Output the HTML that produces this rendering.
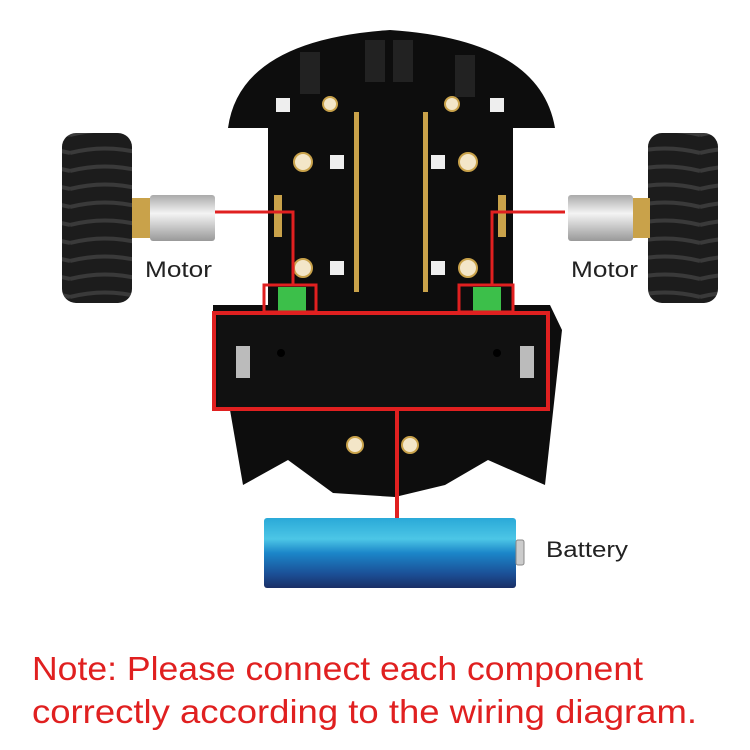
<!DOCTYPE html>
<html><head><meta charset="utf-8"><style>
html,body{margin:0;padding:0;background:#fff;width:750px;height:750px;overflow:hidden}
svg{display:block}
</style></head><body>
<svg width="750" height="750" viewBox="0 0 750 750" xmlns="http://www.w3.org/2000/svg">
<defs>
<linearGradient id="bat" x1="0" y1="0" x2="0" y2="1">
<stop offset="0" stop-color="#2aa9d8"/><stop offset="0.3" stop-color="#4cc6e6"/><stop offset="0.5" stop-color="#1b86c9"/><stop offset="0.8" stop-color="#1b4f96"/><stop offset="1" stop-color="#1a2f66"/>
</linearGradient>
<linearGradient id="mot" x1="0" y1="0" x2="0" y2="1">
<stop offset="0" stop-color="#aaa"/><stop offset="0.4" stop-color="#f4f4f4"/><stop offset="1" stop-color="#999"/>
</linearGradient>
<pattern id="tread" width="70" height="18" patternUnits="userSpaceOnUse">
<rect width="70" height="18" fill="#1c1c1c"/><path d="M0 9 Q35 0 70 9" stroke="#3a3a3a" stroke-width="4" fill="none"/>
</pattern>
</defs>
<rect x="62" y="133" width="70" height="170" rx="14" fill="url(#tread)"/>
<rect x="648" y="133" width="70" height="170" rx="14" fill="url(#tread)"/>
<rect x="132" y="198" width="20" height="40" fill="#c9a24a"/>
<rect x="150" y="195" width="65" height="46" rx="3" fill="url(#mot)"/>
<rect x="630" y="198" width="20" height="40" fill="#c9a24a"/>
<rect x="568" y="195" width="65" height="46" rx="3" fill="url(#mot)"/>
<path d="M228 128 Q240 40 390 30 Q540 40 555 128 L513 128 L513 310 L268 310 L268 128 Z" fill="#0d0d0d"/>
<path d="M213 305 L550 305 L562 330 L545 485 L488 460 L445 485 L395 497 L333 493 L288 460 L243 485 L230 410 L213 410 Z" fill="#0d0d0d"/>
<rect x="300" y="52" width="20" height="42" fill="#222"/><rect x="365" y="40" width="20" height="42" fill="#222"/><rect x="393" y="40" width="20" height="42" fill="#222"/><rect x="455" y="55" width="20" height="42" fill="#222"/>
<g fill="#f3e6c8" stroke="#c9a24a" stroke-width="2">
<circle cx="303" cy="162" r="9"/><circle cx="468" cy="162" r="9"/><circle cx="303" cy="268" r="9"/><circle cx="468" cy="268" r="9"/><circle cx="330" cy="104" r="7"/><circle cx="452" cy="104" r="7"/><circle cx="355" cy="445" r="8"/><circle cx="410" cy="445" r="8"/>
</g>
<g fill="#eee"><rect x="276" y="98" width="14" height="14"/><rect x="490" y="98" width="14" height="14"/><rect x="330" y="155" width="14" height="14"/><rect x="431" y="155" width="14" height="14"/><rect x="330" y="261" width="14" height="14"/><rect x="431" y="261" width="14" height="14"/></g>
<g fill="#c9a24a"><rect x="274" y="195" width="8" height="42"/><rect x="498" y="195" width="8" height="42"/>
<rect x="354" y="112" width="5" height="180"/><rect x="423" y="112" width="5" height="180"/></g>
<rect x="278" y="287" width="28" height="24" fill="#3cbf4a"/><rect x="473" y="287" width="28" height="24" fill="#3cbf4a"/>
<rect x="218" y="315" width="330" height="92" fill="#111"/>
<rect x="236" y="346" width="14" height="32" fill="#bbb"/><rect x="520" y="346" width="14" height="32" fill="#bbb"/>
<circle cx="281" cy="353" r="4" fill="#000"/><circle cx="497" cy="353" r="4" fill="#000"/>
<g stroke="#e02020" stroke-width="3" fill="none">
<path d="M215 212 L293 212 L293 284"/><path d="M565 212 L492 212 L492 284"/>
<rect x="264" y="285" width="52" height="27"/><rect x="459" y="285" width="54" height="27"/>
<rect x="214" y="313" width="334" height="96" stroke-width="4"/>
<path d="M397 410 L397 518" stroke-width="4"/>
</g>
<rect x="264" y="518" width="252" height="70" rx="3" fill="url(#bat)"/>
<rect x="516" y="540" width="8" height="25" rx="2" fill="#ccc" stroke="#888"/>
<g font-family="Liberation Sans, sans-serif" fill="#222" font-size="22">
<text x="145" y="277" textLength="67" lengthAdjust="spacingAndGlyphs">Motor</text><text x="571" y="277" textLength="67" lengthAdjust="spacingAndGlyphs">Motor</text><text x="546" y="557" textLength="82" lengthAdjust="spacingAndGlyphs">Battery</text>
</g>
<g font-family="Liberation Sans, sans-serif" fill="#e02020" font-size="33">
<text x="32" y="680" textLength="611" lengthAdjust="spacingAndGlyphs">Note: Please connect each component</text>
<text x="32" y="723" textLength="665" lengthAdjust="spacingAndGlyphs">correctly according to the wiring diagram.</text>
</g>
</svg>
</body></html>
